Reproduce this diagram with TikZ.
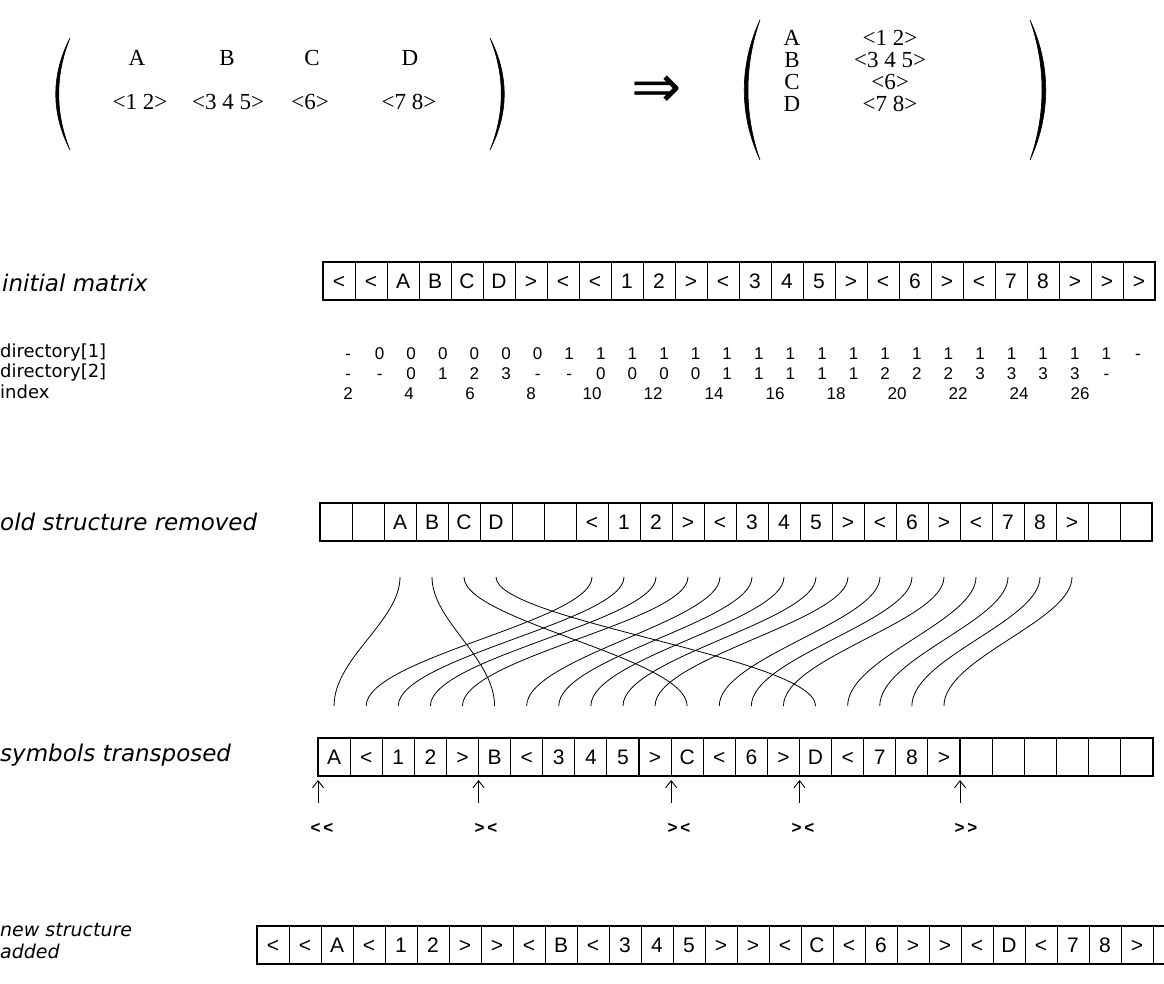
\documentclass[tikz,border=0pt]{standalone}
\usepackage{fontspec}
\setmainfont{Liberation Serif}
\setsansfont{Liberation Sans}
\newfontfamily\labelfont{DejaVu Sans}
\usetikzlibrary{arrows.meta,positioning}

\begin{document}
\begin{tikzpicture}[
    x=1pt, y=-1pt,
    cell/.style={draw, line width=1pt, minimum width=32pt, minimum height=38pt, inner sep=0pt, outer sep=0pt,
                 text height=15pt, text depth=0pt, font=\sffamily\fontsize{21}{21}\selectfont},
    frame/.style={line width=2pt},
    tag/.style={anchor=west, inner sep=0pt, font=\labelfont\itshape\fontsize{23}{26}\selectfont},
    rowname/.style={anchor=west, inner sep=0pt, font=\labelfont\fontsize{18}{18}\selectfont},
    digit/.style={inner sep=0pt, text height=12pt, text depth=0pt, font=\sffamily\fontsize{17}{17}\selectfont},
    entry/.style={inner sep=0pt, font=\rmfamily\fontsize{23}{23}\selectfont},
    paren/.style={fill, draw, line width=0.6pt},
    strand/.style={line width=0.8pt, shorten <=36pt, shorten >=32pt},
    pointer/.style={-{Straight Barb[length=7pt,width=11pt]}, line width=0.9pt, shorten <=20pt, shorten >=4pt},
    gaplabel/.style={inner sep=0pt, font=\sffamily\bfseries\fontsize{17}{17}\selectfont}
]
    \useasboundingbox (0,0) rectangle (1164,983);

    % matrix before and after
    \foreach \c/\x in {A/137,B/227,C/312,D/410}
        \node[entry] (row-\c) at (\x,58) {\c};
    \node[entry] (row-1) at (140,102) {<1 2>};
    \node[entry] (row-2) at (228,102) {<3 4 5>};
    \node[entry] (row-3) at (310,102) {<6>};
    \node[entry] (row-4) at (409,102) {<7 8>};
    \fill[paren] (70,38) .. controls (51,75) and (51,113) .. (70,150) .. controls (55,113) and (55,75) .. (70,38);
    \fill[paren] (490,38) .. controls (509,75) and (509,113) .. (490,150) .. controls (505,113) and (505,75) .. (490,38);

    \node[inner sep=0pt, font=\labelfont\fontsize{60}{60}\selectfont] (implies) at (657,92) {⇒};

    \foreach \c/\y in {A/38,B/60,C/82,D/104}
        \node[entry] (col-\c) at (792,\y) {\c};
    \node[entry] (col-1) at (890,38) {<1 2>};
    \node[entry] (col-2) at (890,60) {<3 4 5>};
    \node[entry] (col-3) at (890,82) {<6>};
    \node[entry] (col-4) at (890,104) {<7 8>};
    \fill[paren] (760,20) .. controls (739,65) and (739,115) .. (760,160) .. controls (744,115) and (744,65) .. (760,20);
    \fill[paren] (1030,20) .. controls (1051,65) and (1051,115) .. (1030,160) .. controls (1046,115) and (1046,65) .. (1030,20);

    % initial matrix
    \node[tag] (lbl-init) at (2,283) {initial matrix};
    \foreach \s [count=\k] in {<,<,A,B,C,D,>,<,<,1,2,>,<,3,4,5,>,<,6,>,<,7,8,>,>,>}
        \node[cell] (init-\k) at ({323+32*(\k-0.5)},281) {\s};
    \draw[frame] (init-1.north west) rectangle (init-26.south east);

    % directory
    \node[rowname] (lbl-dir1) at (0,353) {directory[1]};
    \node[rowname] (lbl-dir2) at (0,373) {directory[2]};
    \node[rowname] (lbl-idx) at (0,392) {index};
    \foreach \v [count=\k] in {-,0,0,0,0,0,0,1,1,1,1,1,1,1,1,1,1,1,1,1,1,1,1,1,1,-}
        \node[digit] (dirA-\k) at ({348+31.6*(\k-1)},353) {\v};
    \foreach \v [count=\k] in {-,-,0,1,2,3,-,-,0,0,0,0,1,1,1,1,1,2,2,2,3,3,3,3,-}
        \node[digit] (dirB-\k) at ({348+31.6*(\k-1)},373) {\v};
    \foreach \v [count=\k] in {2,4,6,8,10,12,14,16,18,20,22,24,26}
        \node[digit] (idx-\k) at ({348+61*(\k-1)},393) {\v};

    % old structure removed
    \node[tag] (lbl-old) at (0,522) {old structure removed};
    \foreach \s [count=\k] in {{},{},A,B,C,D,{},{},<,1,2,>,<,3,4,5,>,<,6,>,<,7,8,>,{},{}}
        \node[cell] (old-\k) at ({320+32*(\k-0.5)},522) {\s};
    \draw[frame] (old-1.north west) rectangle (old-26.south east);

    % symbols transposed
    \node[tag] (lbl-sym) at (0,755) {symbols transposed};
    \foreach \s [count=\k] in {A,<,1,2,>,B,<,3,4,5,>,C,<,6,>,D,<,7,8,>,{},{},{},{},{},{}}
        \node[cell] (sym-\k) at ({318+32.1*(\k-0.5)},757) {\s};
    \draw[frame] (sym-1.north west) rectangle (sym-26.south east);

    % moves
    \foreach \a/\b in {3/1,4/6,5/12,6/16,9/2,10/3,11/4,12/5,13/7,14/8,15/9,16/10,17/11,18/13,19/14,20/15,21/17,22/18,23/19,24/20}
        \draw[strand] (old-\a.south) .. controls +(0,80) and +(0,-80) .. (sym-\b.north);

    % gaps
    \node[gaplabel] (gap-1) at (322,828) {<\,<};
    \node[gaplabel] (gap-2) at (486,828) {>\,<};
    \node[gaplabel] (gap-3) at (679,828) {>\,<};
    \node[gaplabel] (gap-4) at (803,828) {>\,<};
    \node[gaplabel] (gap-5) at (966,828) {>\,>};
    \foreach \g/\c in {1/1,2/6,3/12,4/16,5/21}
        \draw[pointer] (sym-\c.south west |- gap-\g.north) -- (sym-\c.south west);

    % new structure added
    \node[tag, align=left, font=\labelfont\itshape\fontsize{19}{22}\selectfont] (lbl-new) at (0,941) {new structure\\added};
    \begin{scope}
        \clip (0,0) rectangle (1164,983);
        \foreach \s [count=\k] in {<,<,A,<,1,2,>,>,<,B,<,3,4,5,>,>,<,C,<,6,>,>,<,D,<,7,8,>,{}}
            \node[cell] (new-\k) at ({257+32*(\k-0.5)},945) {\s};
        \draw[frame] (new-1.north west) rectangle (new-29.south east);
    \end{scope}
\end{tikzpicture}
\end{document}
